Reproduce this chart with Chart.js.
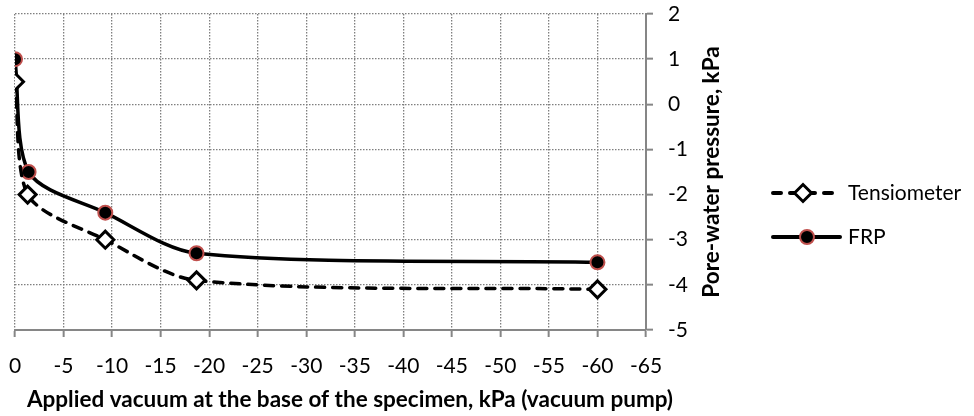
<!DOCTYPE html>
<html>
<head>
<meta charset="utf-8">
<script src="https://cdn.jsdelivr.net/npm/chart.js@4/dist/chart.umd.min.js"></script>
<style>
  html, body { margin: 0; padding: 0; background: #fff; }
  #wrap { width: 974px; height: 416px; position: relative; }
</style>
</head>
<body>
<div id="wrap"><canvas id="c" width="974" height="416"></canvas></div>
<script>
const seriesNames = ["Tensiometer", "FRP"];
const tensX = [0, -1.3, -9.3, -18.7, -60];
const tensY = [0.5, -2.0, -3.0, -3.9, -4.1];
const frpX = [0, -1.4, -9.3, -18.7, -60];
const frpY = [1.0, -1.5, -2.4, -3.3, -3.5];
const xTitle = "Applied vacuum at the base of the specimen, kPa (vacuum pump)";
const yTitle = "Pore-water pressure, kPa";
const xMin = -65, xMax = 0, xStep = 5;
const yMin = -5, yMax = 2, yStep = 1;

const FONT = "Lato";
const toPts = (xs, ys) => xs.map((x, i) => ({x: x, y: ys[i]}));

const decorPlugin = {
  id: 'decor',
  afterDraw(chart) {
    const ctx = chart.ctx;
    ctx.save();
    ctx.fillStyle = '#000';
    ctx.font = 'bold 22.5px ' + FONT;
    ctx.textAlign = 'center';
    ctx.textBaseline = 'middle';
    ctx.fillText(xTitle, 350, 400);
    ctx.save();
    ctx.translate(712, 172);
    ctx.rotate(-Math.PI / 2);
    ctx.fillText(yTitle, 0, 0);
    ctx.restore();

    const rows = [
      {name: seriesNames[0], y: 193, x1: 771, x2: 835, mx: 803, dash: true},
      {name: seriesNames[1], y: 237, x1: 771, x2: 842, mx: 807, dash: false}
    ];
    rows.forEach(r => {
      ctx.save();
      ctx.strokeStyle = '#000';
      ctx.lineWidth = 4;
      ctx.lineCap = 'round';
      if (r.dash) ctx.setLineDash([8, 9]);
      ctx.beginPath();
      ctx.moveTo(r.x1 + 2, r.y);
      ctx.lineTo(r.x2 - 2, r.y);
      ctx.stroke();
      ctx.setLineDash([]);
      if (r.dash) {
        const rr = 8.5;
        ctx.beginPath();
        ctx.moveTo(r.mx - rr, r.y);
        ctx.lineTo(r.mx, r.y - rr);
        ctx.lineTo(r.mx + rr, r.y);
        ctx.lineTo(r.mx, r.y + rr);
        ctx.closePath();
        ctx.fillStyle = '#fff';
        ctx.fill();
        ctx.lineWidth = 3;
        ctx.stroke();
      } else {
        ctx.beginPath();
        ctx.arc(r.mx, r.y, 7, 0, Math.PI * 2);
        ctx.fillStyle = '#000';
        ctx.fill();
        ctx.lineWidth = 2;
        ctx.strokeStyle = '#c0504d';
        ctx.stroke();
      }
      ctx.restore();
      ctx.font = '21px ' + FONT;
      ctx.textAlign = 'left';
      ctx.textBaseline = 'middle';
      ctx.fillStyle = '#000';
      ctx.fillText(r.name, 848, r.y);
    });
    ctx.restore();
  }
};

new Chart(document.getElementById('c'), {
  type: 'scatter',
  data: {
    datasets: [
      {
        label: seriesNames[0],
        data: toPts(tensX, tensY),
        showLine: true,
        borderColor: '#000',
        borderWidth: 3.5,
        borderDash: [9, 8],
        borderCapStyle: 'round',
        tension: 0.3,
        pointStyle: 'rectRot',
        pointRadius: 8.5,
        pointBorderWidth: 3,
        pointBackgroundColor: '#fff',
        pointBorderColor: '#000'
      },
      {
        label: seriesNames[1],
        data: toPts(frpX, frpY),
        showLine: true,
        borderColor: '#000',
        borderWidth: 3.5,
        tension: 0.3,
        pointStyle: 'circle',
        pointRadius: 7,
        pointBorderWidth: 2,
        pointBackgroundColor: '#000',
        pointBorderColor: '#c0504d'
      }
    ]
  },
  options: {
    responsive: false,
    animation: false,
    layout: { padding: { left: 15, top: 14, right: 0, bottom: 0 } },
    plugins: { legend: { display: false }, tooltip: { enabled: false } },
    scales: {
      x: {
        type: 'linear',
        position: 'bottom',
        reverse: true,
        min: xMin, max: xMax,
        afterFit(s) { s.height = 86; s.paddingLeft = 0; s.paddingRight = 0; },
        ticks: { stepSize: xStep, color: '#000', font: { family: FONT, size: 21 }, padding: 17, maxRotation: 0, autoSkip: false },
        grid: { color: '#7f7f7f', lineWidth: 1.3, tickLength: 7, tickColor: '#868686', tickWidth: 2, tickBorderDash: [] },
        border: { display: true, color: '#868686', width: 2, dash: [1.5, 1.5] }
      },
      y: {
        type: 'linear',
        position: 'right',
        min: yMin, max: yMax,
        afterFit(s) { s.width = 328; s.paddingTop = 0; s.paddingBottom = 0; },
        ticks: { stepSize: yStep, color: '#000', font: { family: FONT, size: 21 }, padding: 15 },
        grid: { color: '#7f7f7f', lineWidth: 1.3, tickLength: 7, tickColor: '#868686', tickWidth: 2, tickBorderDash: [] },
        border: { display: true, color: '#868686', width: 2, dash: [1.5, 1.5] }
      }
    }
  },
  plugins: [decorPlugin]
});
</script>
</body>
</html>
